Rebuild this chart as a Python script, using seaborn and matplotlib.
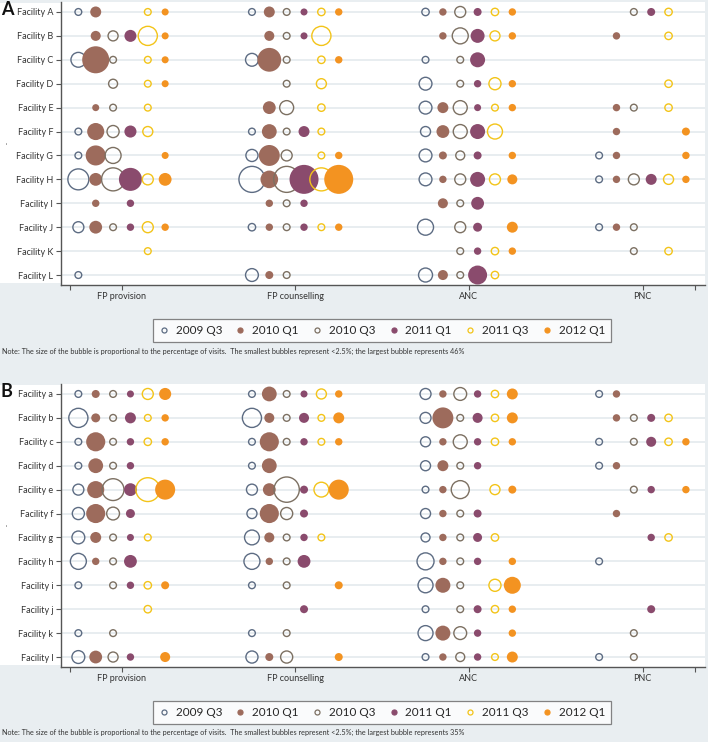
import numpy as np
import pandas as pd
import seaborn as sns
import matplotlib.pyplot as plt
from matplotlib.lines import Line2D
from matplotlib.patches import Rectangle

PERIODS = ["2009 Q3", "2010 Q1", "2010 Q3", "2011 Q1", "2011 Q3", "2012 Q1"]
SERVICES = ["FP provision", "FP counselling", "ANC", "PNC"]
FACILITIES_A = ["Facility " + c for c in "ABCDEFGHIJKL"]
FACILITIES_B = ["Facility " + c for c in "abcdefghijkl"]

# percentage of visits, one row per facility, one column per period (0 = no bubble)
A_FP_PROVISION = [
    [2, 6.6, 0, 0, 2, 2.7],
    [0, 5.5, 5.5, 7.9, 20, 2.7],
    [12, 40, 2, 0, 2, 2.7],
    [0, 0, 4.4, 0, 2, 2.7],
    [0, 2.7, 2, 0, 2, 0],
    [2, 16, 8, 8, 5.5, 0],
    [2, 22, 14, 0, 0, 2.7],
    [24, 9, 29, 29, 6.6, 9],
    [0, 3, 0, 3, 0, 0],
    [6.6, 9, 2, 3, 6.6, 3],
    [0, 0, 0, 0, 2, 0],
    [2, 0, 0, 0, 0, 0],
]
A_FP_COUNSELLING = [
    [2, 6.6, 2, 2.7, 3, 3],
    [0, 5.5, 2, 2.7, 20, 0],
    [9, 31, 2, 0, 3, 3],
    [0, 0, 2, 0, 5.5, 0],
    [0, 9, 10.7, 0, 3, 0],
    [2, 12, 2, 6.6, 2.5, 0],
    [8, 24, 6.6, 0, 2, 3],
    [37, 17, 37, 46, 29, 46],
    [0, 3, 2, 3, 0, 0],
    [3, 3, 2, 3, 2.5, 3],
    [0, 0, 0, 0, 0, 0],
    [9, 3.5, 2, 0, 0, 0],
]
A_ANC = [
    [3, 3, 6.6, 3.5, 3, 3],
    [0, 3, 14, 10.7, 5.5, 3],
    [2, 0, 2, 12.3, 0, 0],
    [9, 0, 2, 3, 8, 3],
    [9, 6.6, 10.7, 2.7, 2, 3],
    [5.5, 9, 10.7, 12.3, 12.3, 0],
    [9, 3.5, 4.4, 3.5, 0, 3],
    [9, 3, 6.6, 12.3, 6.6, 5.5],
    [0, 5.5, 2, 9, 0, 0],
    [14, 0, 6.6, 4.4, 0, 6.6],
    [0, 0, 2, 3, 3, 3],
    [10.7, 5.5, 2, 19.7, 3, 0],
]
A_PNC = [
    [0, 0, 2, 3.5, 3, 0],
    [0, 3, 0, 0, 3, 0],
    [0, 0, 0, 0, 0, 0],
    [0, 0, 0, 0, 3, 0],
    [0, 3, 2, 0, 3, 0],
    [0, 3, 0, 0, 0, 3.5],
    [2, 3, 0, 0, 0, 3],
    [2, 3, 6.6, 6.6, 5.5, 3],
    [0, 0, 0, 0, 0, 0],
    [2, 3, 2, 0, 0, 0],
    [0, 0, 2, 0, 3, 0],
    [0, 0, 0, 0, 0, 0],
]

B_FP_PROVISION = [
    [2, 3.5, 2, 2.7, 6.6, 8],
    [20, 4.4, 2, 6.6, 2, 3],
    [2, 20, 2, 3, 3, 3],
    [2, 12, 2, 3, 0, 0],
    [6.6, 16, 26, 9, 31, 22],
    [8, 20, 9, 4.4, 0, 0],
    [9, 6.6, 2, 2.7, 2.5, 0],
    [14, 3, 2, 9, 0, 0],
    [2, 0, 2, 3, 3, 3.5],
    [0, 0, 0, 0, 3, 0],
    [2, 0, 2, 0, 0, 0],
    [9, 9, 5.5, 3, 0, 5.5],
]
B_FP_COUNSELLING = [
    [2, 12, 2, 2.7, 5.5, 3],
    [20, 5.5, 2, 5.5, 2, 6.6],
    [2, 20, 2, 3, 2, 3],
    [2, 12, 0, 0, 0, 0],
    [6.6, 9, 35, 3.5, 12, 22],
    [5.5, 20, 8, 3.5, 0, 0],
    [12, 5.5, 2, 3, 2.5, 0],
    [14, 3, 2, 9, 0, 0],
    [2, 0, 2, 0, 0, 3.5],
    [0, 0, 0, 3.5, 0, 0],
    [2, 0, 2, 0, 0, 0],
    [8, 3.5, 8, 0, 0, 3.5],
]
B_ANC = [
    [6.6, 3, 9, 3, 3, 6.6],
    [6.6, 24, 2, 5.5, 3, 6.6],
    [5.5, 3, 10.7, 3, 3, 3],
    [5.5, 6.6, 2, 3, 0, 0],
    [2, 3, 17.7, 0, 5.5, 3.5],
    [5.5, 3, 2, 3.5, 0, 0],
    [4.4, 3, 2, 4.4, 3, 0],
    [15.8, 3, 2, 3, 0, 3],
    [12.3, 12.3, 2.5, 0, 8, 15.8],
    [2, 0, 2, 3.5, 3, 3],
    [12.3, 12.3, 9, 3, 0, 3],
    [2, 3, 4.4, 3, 2, 6.6],
]
B_PNC = [
    [2, 3, 0, 0, 0, 0],
    [0, 3, 2, 3.5, 3, 0],
    [2, 0, 2, 5.5, 3, 3],
    [2, 3, 0, 0, 0, 0],
    [0, 0, 2, 3, 0, 3],
    [0, 3, 0, 0, 0, 0],
    [0, 0, 0, 3, 3, 0],
    [2, 0, 0, 0, 0, 0],
    [0, 0, 0, 0, 0, 0],
    [0, 0, 0, 3.5, 0, 0],
    [0, 0, 2, 0, 0, 0],
    [2, 0, 2, 0, 0, 0],
]

NOTE_A = ("Note: The size of the bubble is proportional to the percentage of visits.  "
          "The smallest bubbles represent <2.5%; the largest bubble represents 46%")
NOTE_B = ("Note: The size of the bubble is proportional to the percentage of visits.  "
          "The smallest bubbles represent <2.5%; the largest bubble represents 35%")

COLORS = ["#5d6c83", "#9d6b5c", "#7c7062", "#8a4b6d", "#f3c419", "#f39321"]
FILLED = [False, True, False, True, False, True]
BG = "#e9eef1"
GRID = "#e4eaee"

W, H = 708, 742
MAX_PCT = 46
MAX_AREA = (0.72 * 29) ** 2  # marker area (pt^2) for 46%


def long_table(grids):
    rows = []
    for s, grid in enumerate(grids):
        for f, vals in enumerate(grid):
            for p, v in enumerate(vals):
                if v > 0:
                    rows.append({"facility": f, "period": PERIODS[p],
                                 "pos": s * 10 + p - 2.5, "pct": max(v, 2.5)})
    return pd.DataFrame(rows)


sns.set_theme(style="white")
plt.rcParams["font.family"] = ["Lato", "DejaVu Sans"]

fig = plt.figure(figsize=(W / 100, H / 100), dpi=100, facecolor=BG)


def px_axes(left, top, right, bottom):
    return fig.add_axes([left / W, 1 - bottom / H, (right - left) / W, (bottom - top) / H])


def draw_panel(ax, df, facilities, letter, note, top_px, legend_y, note_y, white_top, white_bot):
    fig.add_artist(Rectangle((0, 1 - white_bot / H), 705 / W, (white_bot - white_top) / H,
                             transform=fig.transFigure, facecolor="white",
                             edgecolor="none", zorder=-5))
    ax.set_facecolor("white")
    for p, period in enumerate(PERIODS):
        sub = df[df["period"] == period]
        c = COLORS[p]
        if FILLED[p]:
            kw = dict(color=c, edgecolor=c, linewidth=0)
        else:
            kw = dict(facecolor="none", edgecolor=c, linewidth=1.0)
        sns.scatterplot(data=sub, x="pos", y="facility", size="pct",
                        sizes=(0, MAX_AREA), size_norm=(0, MAX_PCT),
                        legend=False, ax=ax, zorder=3 + p, **kw)
    ax.set_xlim(-3.5, 33.6)
    ax.set_ylim(11.4, -0.4)
    ax.set_yticks(range(len(facilities)))
    ax.set_yticklabels(facilities)
    ax.set_xticks([0, 10, 20, 30])
    ax.set_xticklabels(SERVICES)
    ax.set_xticks([-3, 33], minor=True)
    ax.grid(axis="y", color=GRID, linewidth=1.2, zorder=0)
    ax.set_axisbelow(True)
    for side in ["top", "right"]:
        ax.spines[side].set_visible(False)
    for side in ["left", "bottom"]:
        ax.spines[side].set_color("#555555")
        ax.spines[side].set_linewidth(1.0)
    ax.tick_params(axis="both", which="both", direction="out", length=3.5, width=0.8,
                   color="#555555", labelsize=6.5, labelcolor="#333333", pad=2,
                   left=True, bottom=True)
    ax.set_xlabel("")
    ax.set_ylabel(".", fontsize=6, rotation=90)
    ax.yaxis.set_label_coords(-0.082, 0.5)
    fig.text(1 / W, 1 - top_px / H, letter, fontsize=13, fontweight="bold",
             va="baseline", ha="left", color="#111111")
    handles = [Line2D([], [], marker="o", linestyle="", markersize=3.6,
                      markerfacecolor=COLORS[i] if FILLED[i] else "none",
                      markeredgecolor=COLORS[i], markeredgewidth=0.9)
               for i in range(len(PERIODS))]
    leg = fig.legend(handles, PERIODS, ncol=6, loc="center",
                     bbox_to_anchor=(382 / W, 1 - legend_y / H), frameon=True,
                     fancybox=False, edgecolor="#666666",
                     handlelength=0.8, handletextpad=0.6, columnspacing=1.15,
                     borderpad=0.5, prop={"size": 8.5})
    leg.get_frame().set_linewidth(0.9)
    fig.text(2 / W, 1 - note_y / H, note, fontsize=5.2, va="center", ha="left",
             color="#333333")


ax_a = px_axes(61, 2.4, 705, 284.6)
draw_panel(ax_a, long_table([A_FP_PROVISION, A_FP_COUNSELLING, A_ANC, A_PNC]),
           FACILITIES_A, "A", NOTE_A, 15, 330.5, 351, 3, 283)

ax_b = px_axes(61, 384.4, 705, 666.6)
draw_panel(ax_b, long_table([B_FP_PROVISION, B_FP_COUNSELLING, B_ANC, B_PNC]),
           FACILITIES_B, "B", NOTE_B, 397, 712.5, 732, 385, 665)

fig.savefig("out.png", dpi=100, facecolor=BG)
